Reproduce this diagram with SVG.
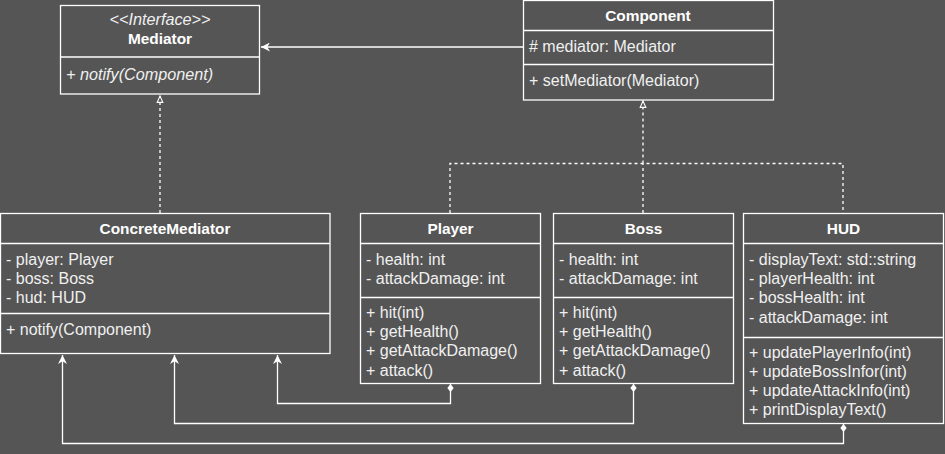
<svg xmlns="http://www.w3.org/2000/svg" width="945" height="454" viewBox="0 0 945 454">
<defs>
<style>
.bg{fill:#555555}
.box{fill:#555555;stroke:#ffffff;stroke-width:1.3}
.div{stroke:#ffffff;stroke-width:1.3}
text{font-family:"Liberation Sans","Open Sans",Arial,sans-serif;font-size:16px;fill:#f0f0f0}
.t{font-weight:bold;font-size:15.4px;text-anchor:middle;fill:#ffffff}
.c{text-anchor:middle}
.i{font-style:italic;font-size:16.2px}
.ln{fill:none;stroke:#ffffff;stroke-width:1.3}
.dash{fill:none;stroke:#ffffff;stroke-width:1.3;stroke-dasharray:3 3}
</style>
<marker id="arr" viewBox="0 0 10 10" refX="10" refY="5" markerWidth="9" markerHeight="9" markerUnits="userSpaceOnUse" orient="auto">
<path d="M10,5 L0,0 L3,5 L0,10 Z" fill="#ffffff"/>
</marker>
<marker id="tri" viewBox="0 0 10 10" refX="9" refY="5" markerWidth="8" markerHeight="8" markerUnits="userSpaceOnUse" orient="auto">
<path d="M9,5 L1,1.5 L1,8.5 Z" fill="#555555" stroke="#ffffff" stroke-width="1.4"/>
</marker>
<marker id="dia" viewBox="0 0 10 10" refX="0" refY="5" markerWidth="8" markerHeight="8" markerUnits="userSpaceOnUse" orient="auto">
<path d="M0,5 L5,1 L10,5 L5,9 Z" fill="#ffffff"/>
</marker>
</defs>
<rect class="bg" x="0" y="0" width="945" height="454"/>

<g id="connectors">
<path class="ln" d="M523,47 L261,47" marker-end="url(#arr)"/>
<path class="dash" d="M160,213 L160,96" marker-end="url(#tri)"/>
<path class="dash" d="M643,213 L643,163.5 M450,213 L450,163.5 L843,163.5 L843,213"/>
<path class="dash" d="M643,163.5 L643,101" marker-end="url(#tri)"/>
<path class="ln" d="M450.5,384 L450.5,403.5 L277.5,403.5 L277.5,355" marker-start="url(#dia)" marker-end="url(#arr)"/>
<path class="ln" d="M633.5,384 L633.5,423.5 L174.5,423.5 L174.5,355" marker-start="url(#dia)" marker-end="url(#arr)"/>
<path class="ln" d="M843.5,424 L843.5,443.5 L62.5,443.5 L62.5,355" marker-start="url(#dia)" marker-end="url(#arr)"/>
</g>

<g id="mediator">
<rect class="box" x="60.5" y="5.5" width="199" height="88.5"/>
<line class="div" x1="60.5" y1="57" x2="259.5" y2="57"/>
<text class="c i" x="160" y="25">&lt;&lt;Interface&gt;&gt;</text>
<text class="t" x="160" y="44">Mediator</text>
<text class="i" x="66" y="80">+ notify(Component)</text>
</g>

<g id="component">
<rect class="box" x="523.5" y="0.5" width="250" height="99.5"/>
<line class="div" x1="523.5" y1="30.5" x2="773.5" y2="30.5"/>
<line class="div" x1="523.5" y1="64.5" x2="773.5" y2="64.5"/>
<text class="t" x="648" y="21">Component</text>
<text x="529" y="52"># mediator: Mediator</text>
<text x="529" y="86">+ setMediator(Mediator)</text>
</g>

<g id="concretemediator">
<rect class="box" x="0.5" y="213.5" width="329.5" height="140"/>
<line class="div" x1="0.5" y1="243.5" x2="330" y2="243.5"/>
<line class="div" x1="0.5" y1="313.5" x2="330" y2="313.5"/>
<text class="t" x="165" y="234">ConcreteMediator</text>
<text x="6" y="265">- player: Player</text>
<text x="6" y="284">- boss: Boss</text>
<text x="6" y="303">- hud: HUD</text>
<text x="6" y="335">+ notify(Component)</text>
</g>

<g id="player">
<rect class="box" x="360.5" y="213.5" width="180" height="170"/>
<line class="div" x1="360.5" y1="243.5" x2="540.5" y2="243.5"/>
<line class="div" x1="360.5" y1="297.5" x2="540.5" y2="297.5"/>
<text class="t" x="450.5" y="234">Player</text>
<text x="366" y="265">- health: int</text>
<text x="366" y="284">- attackDamage: int</text>
<text x="366" y="318">+ hit(int)</text>
<text x="366" y="337">+ getHealth()</text>
<text x="366" y="356">+ getAttackDamage()</text>
<text x="366" y="376">+ attack()</text>
</g>

<g id="boss">
<rect class="box" x="553.5" y="213.5" width="180" height="170"/>
<line class="div" x1="553.5" y1="243.5" x2="733.5" y2="243.5"/>
<line class="div" x1="553.5" y1="297.5" x2="733.5" y2="297.5"/>
<text class="t" x="643.5" y="234">Boss</text>
<text x="559" y="265">- health: int</text>
<text x="559" y="284">- attackDamage: int</text>
<text x="559" y="318">+ hit(int)</text>
<text x="559" y="337">+ getHealth()</text>
<text x="559" y="356">+ getAttackDamage()</text>
<text x="559" y="376">+ attack()</text>
</g>

<g id="hud">
<rect class="box" x="743.5" y="213.5" width="200" height="210"/>
<line class="div" x1="743.5" y1="243.5" x2="943.5" y2="243.5"/>
<line class="div" x1="743.5" y1="337.5" x2="943.5" y2="337.5"/>
<text class="t" x="843.5" y="234">HUD</text>
<text x="749" y="265">- displayText: std::string</text>
<text x="749" y="284">- playerHealth: int</text>
<text x="749" y="303">- bossHealth: int</text>
<text x="749" y="323">- attackDamage: int</text>
<text x="749" y="358">+ updatePlayerInfo(int)</text>
<text x="749" y="377">+ updateBossInfor(int)</text>
<text x="749" y="396">+ updateAttackInfo(int)</text>
<text x="749" y="415">+ printDisplayText()</text>
</g>
</svg>
